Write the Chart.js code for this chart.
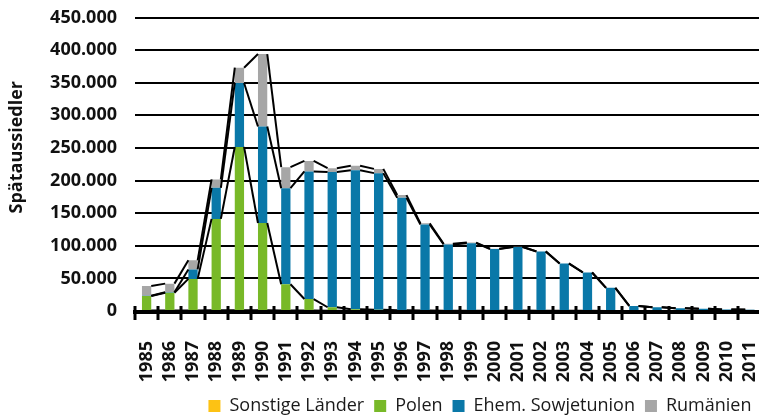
<!DOCTYPE html>
<html lang="de">
<head>
<meta charset="utf-8">
<script src="https://cdn.jsdelivr.net/npm/chart.js@4.4.1/dist/chart.umd.min.js"></script>
<style>
  html, body { margin: 0; padding: 0; background: #fff; overflow: hidden; }
  #wrap { width: 765px; height: 416px; position: relative; }
</style>
</head>
<body>
<div id="wrap"><canvas id="chart" width="765" height="416"></canvas></div>
<script>
// ── Data ──
const years = ['1985','1986','1987','1988','1989','1990','1991','1992','1993','1994',
               '1995','1996','1997','1998','1999','2000','2001','2002','2003','2004',
               '2005','2006','2007','2008','2009','2010','2011'];

const sonstige = [800, 900, 800, 1000, 1200, 1000, 900, 600, 300, 300,
                  300, 100, 60, 40, 30, 30, 50, 20, 15, 10,
                  7, 0, 0, 0, 0, 0, 0];
const polen = [22075, 27188, 48423, 140226, 250340, 133872, 40129, 17742, 5431, 2440,
               1677, 1175, 687, 488, 428, 484, 623, 553, 444, 278,
               80, 80, 70, 47, 36, 16, 13];
const sowjetunion = [460, 753, 14488, 47572, 98134, 147950, 147320, 195576, 207347, 213214,
                     209409, 172181, 131895, 101550, 103599, 94558, 97434, 90587, 72289, 58728,
                     35396, 7626, 5695, 4301, 3292, 2297, 2092];
const rumaenien = [14924, 13130, 13990, 12902, 23387, 111150, 32178, 16146, 5811, 6615,
                   6519, 4284, 1777, 1005, 855, 547, 380, 256, 137, 76,
                   39, 40, 27, 14, 32, 37, 43];

const yTicks = [0, 50000, 100000, 150000, 200000, 250000, 300000, 350000, 400000, 450000];

// ── Formatting ──
function fmtDe(n) {
  return String(Math.round(n)).replace(/\B(?=(\d{3})+(?!\d))/g, '.');
}

const FONT = "'Open Sans', 'Noto Sans', sans-serif";

// ── Excel-style series lines between stacked bars ──
const seriesLines = {
  id: 'seriesLines',
  afterDatasetsDraw(chart) {
    const ctx = chart.ctx;
    ctx.save();
    ctx.strokeStyle = '#000';
    ctx.lineWidth = 2;
    chart.data.datasets.forEach((ds, d) => {
      const els = chart.getDatasetMeta(d).data;
      for (let i = 0; i < els.length - 1; i++) {
        const a = els[i], b = els[i + 1];
        ctx.beginPath();
        ctx.moveTo(a.x + a.width / 2, a.y);
        ctx.lineTo(b.x - b.width / 2, b.y);
        ctx.stroke();
      }
    });
    ctx.restore();
  }
};

// ── Category axis line with cross ticks (drawn over the bar feet) ──
const categoryAxis = {
  id: 'categoryAxis',
  afterDraw(chart) {
    const x = chart.scales.x;
    const ctx = chart.ctx;
    const a = chart.chartArea;
    const half = (x.getPixelForValue(1) - x.getPixelForValue(0)) / 2;
    ctx.save();
    ctx.strokeStyle = '#000';
    ctx.lineWidth = 4;
    ctx.beginPath();
    ctx.moveTo(a.left - 2, a.bottom + 1);
    ctx.lineTo(a.right, a.bottom + 1);
    ctx.stroke();
    ctx.lineWidth = 3;
    for (let i = 0; i <= years.length; i++) {
      const px = Math.round(x.getPixelForValue(i) - half);
      ctx.beginPath();
      ctx.moveTo(px, a.bottom - 5);
      ctx.lineTo(px, a.bottom + 9);
      ctx.stroke();
    }
    ctx.restore();
  }
};

// ── Y axis title ──
const yTitle = {
  id: 'yTitle',
  afterDraw(chart) {
    const ctx = chart.ctx;
    const a = chart.chartArea;
    ctx.save();
    ctx.translate(17, (a.top + a.bottom) / 2 - 17);
    ctx.rotate(-Math.PI / 2);
    ctx.font = `bold 18px ${FONT}`;
    ctx.fillStyle = '#111';
    ctx.textAlign = 'center';
    ctx.textBaseline = 'middle';
    ctx.fillText('Spätaussiedler', 0, 0);
    ctx.restore();
  }
};

function bar(label, data, color) {
  return {
    label,
    data,
    backgroundColor: color,
    borderWidth: 0,
    barPercentage: 0.4,
    categoryPercentage: 1.0
  };
}

new Chart(document.getElementById('chart'), {
  type: 'bar',
  data: {
    labels: years,
    datasets: [
      bar('Sonstige Länder', sonstige, '#fdc214'),
      bar('Polen', polen, '#78b928'),
      bar('Ehem. Sowjetunion', sowjetunion, '#0a78a8'),
      bar('Rumänien', rumaenien, '#a6a6a6')
    ]
  },
  options: {
    responsive: false,
    animation: false,
    layout: { padding: { top: 17.5, right: 3.5, left: 0, bottom: -9 } },
    plugins: {
      tooltip: { enabled: false },
      legend: {
        position: 'bottom',
        align: 'end',
        labels: {
          color: '#1a1a1a',
          font: { family: FONT, size: 18 },
          boxWidth: 12,
          boxHeight: 12,
          padding: 10
        }
      }
    },
    scales: {
      x: {
        stacked: true,
        grid: { display: false },
        border: { display: false },
        ticks: {
          color: '#111',
          font: { family: FONT, size: 18, weight: 'bold' },
          minRotation: 90,
          maxRotation: 90,
          autoSkip: false,
          padding: 22
        },
        afterFit: s => { s.height = 76; s.paddingLeft = 0; s.paddingRight = 0; }
      },
      y: {
        stacked: true,
        min: 0,
        max: 450000,
        afterBuildTicks: s => { s.ticks = yTicks.map(v => ({ value: v })); },
        grid: { color: '#000', lineWidth: 2, drawTicks: false },
        border: { display: false },
        ticks: {
          color: '#111',
          font: { family: FONT, size: 18, weight: 'bold' },
          padding: 18,
          callback: v => fmtDe(v)
        },
        afterFit: s => { s.width = 135; s.paddingTop = 0; s.paddingBottom = 0; }
      }
    }
  },
  plugins: [seriesLines, categoryAxis, yTitle]
});
</script>
</body>
</html>
